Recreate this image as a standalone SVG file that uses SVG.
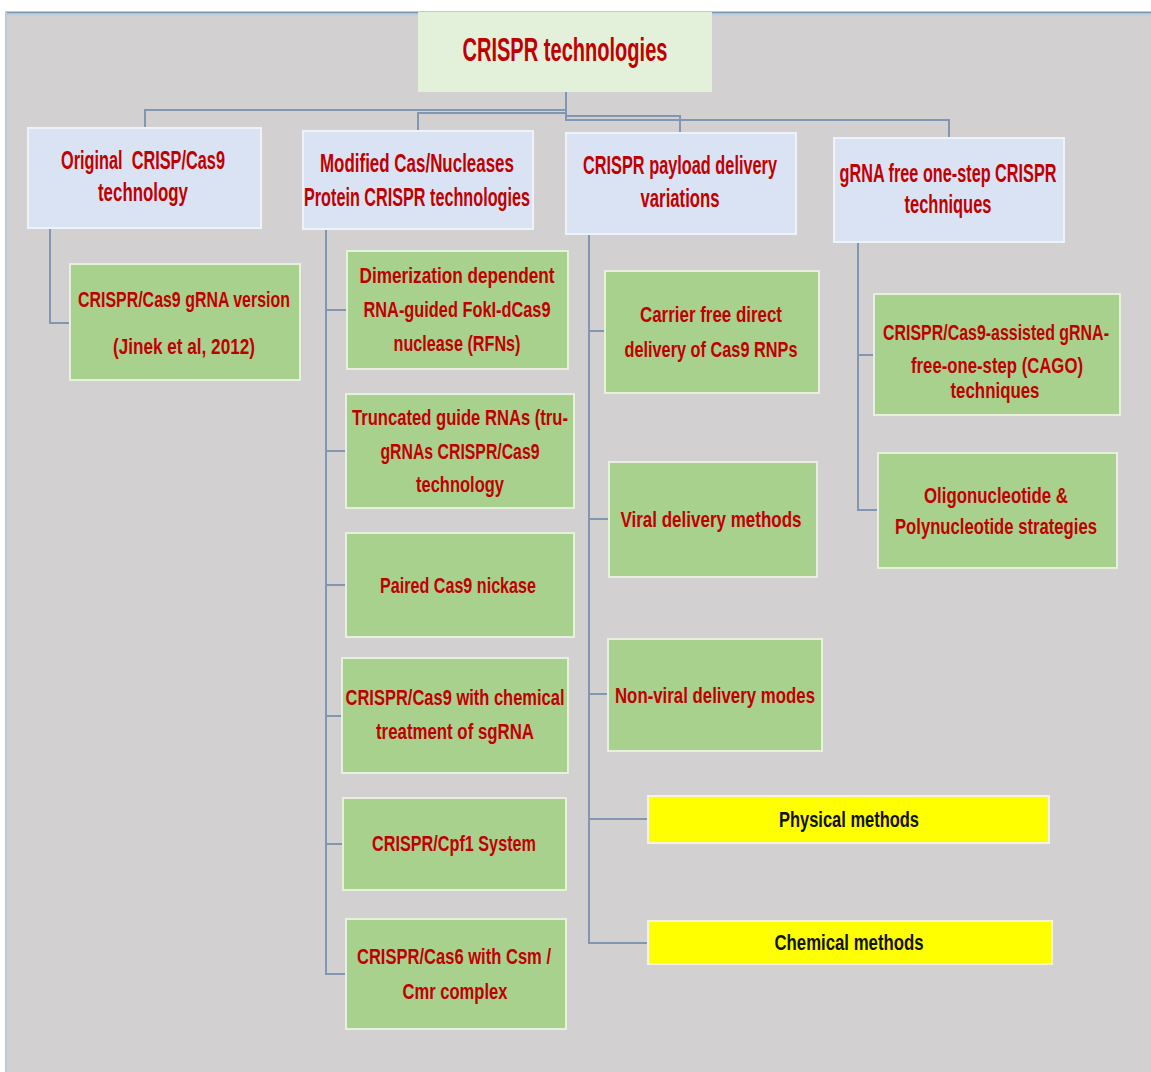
<svg xmlns="http://www.w3.org/2000/svg" width="1151" height="1072" viewBox="0 0 1151 1072">
<style>
  .t { font-family: "Liberation Sans", Arial, sans-serif; font-weight: bold; fill: #c00000; text-anchor: middle; }
  .k { fill: #111111; }
  .f0 { font-size: 34px; }
  .f1 { font-size: 26px; }
  .f2 { font-size: 22px; }
  .root { fill: #e3f0da; }
  .blue { fill: #dae3f3; stroke: #eef2f9; stroke-width: 2; }
  .green { fill: #a9d18e; stroke: #e6f0dc; stroke-width: 2; }
  .yellow { fill: #ffff00; stroke: #f4f4d8; stroke-width: 2; }
  .conn path { fill: none; stroke: #8196b0; stroke-width: 2; }
</style>
<rect x="0" y="0" width="1151" height="1072" fill="#ffffff"/>
<rect x="5" y="12" width="1146" height="1060" fill="#d2d0d0"/>
<line x1="5" y1="12.5" x2="1151" y2="12.5" stroke="#7e95ab" stroke-width="2"/>
<line x1="5" y1="14.5" x2="1151" y2="14.5" stroke="#bccfe0" stroke-width="2"/>
<line x1="6" y1="12" x2="6" y2="1072" stroke="#b9cad8" stroke-width="2"/>

<g class="conn" id="connectors">
  <path d="M566,92 V110 H145 V128"/>
  <path d="M566,92 V113 H418 V131"/>
  <path d="M566,92 V116 H680 V133"/>
  <path d="M566,92 V120 H949 V138"/>
  <path d="M50,228 V323 H70"/>
  <path d="M326,229 V974 H346"/>
  <path d="M326,310 H347"/>
  <path d="M326,451 H346"/>
  <path d="M326,585 H346"/>
  <path d="M326,716 H342"/>
  <path d="M326,844 H343"/>
  <path d="M589,234 V943 H648"/>
  <path d="M589,331 H605"/>
  <path d="M589,519 H609"/>
  <path d="M589,694 H608"/>
  <path d="M589,819 H648"/>
  <path d="M858,242 V510 H878"/>
  <path d="M858,355 H874"/>
</g>

<g id="root">
  <rect class="root" x="418" y="12" width="294" height="80"/>
  <text class="t f0" transform="scale(0.59,1)" x="957.6" y="61" textLength="347.5" lengthAdjust="spacingAndGlyphs">CRISPR technologies</text>
</g>

<g id="n-original">
  <rect class="blue" x="28" y="128" width="233" height="100"/>
  <text class="t f1" transform="scale(0.63,1)" x="227" y="169" textLength="260.3" lengthAdjust="spacingAndGlyphs">Original&#160; CRISP/Cas9</text>
  <text class="t f1" transform="scale(0.63,1)" x="227" y="201" textLength="142.9" lengthAdjust="spacingAndGlyphs">technology</text>
</g>
<g id="n-modified">
  <rect class="blue" x="303" y="131" width="230" height="98"/>
  <text class="t f1" transform="scale(0.63,1)" x="661.9" y="172" textLength="307.9" lengthAdjust="spacingAndGlyphs">Modified Cas/Nucleases</text>
  <text class="t f1" transform="scale(0.63,1)" x="661.9" y="206" textLength="358.7" lengthAdjust="spacingAndGlyphs">Protein CRISPR technologies</text>
</g>
<g id="n-payload">
  <rect class="blue" x="566" y="133" width="230" height="101"/>
  <text class="t f1" transform="scale(0.63,1)" x="1079.4" y="174" textLength="307.9" lengthAdjust="spacingAndGlyphs">CRISPR payload delivery</text>
  <text class="t f1" transform="scale(0.63,1)" x="1079.4" y="207" textLength="125.4" lengthAdjust="spacingAndGlyphs">variations</text>
</g>
<g id="n-grnafree">
  <rect class="blue" x="834" y="138" width="230" height="104"/>
  <text class="t f1" transform="scale(0.63,1)" x="1504.8" y="182" textLength="344.4" lengthAdjust="spacingAndGlyphs">gRNA free one-step CRISPR</text>
  <text class="t f1" transform="scale(0.63,1)" x="1504.8" y="213" textLength="138.1" lengthAdjust="spacingAndGlyphs">techniques</text>
</g>

<g id="n-grna-version">
  <rect class="green" x="70" y="264" width="230" height="116"/>
  <text class="t f2" transform="scale(0.74,1)" x="248.6" y="307" textLength="286.5" lengthAdjust="spacingAndGlyphs">CRISPR/Cas9 gRNA version</text>
  <text class="t f2" transform="scale(0.74,1)" x="248.6" y="354" textLength="191.9" lengthAdjust="spacingAndGlyphs">(Jinek et al, 2012)</text>
</g>

<g id="n-dimer">
  <rect class="green" x="347" y="251" width="221" height="118"/>
  <text class="t f2" transform="scale(0.74,1)" x="617.6" y="283" textLength="263.5" lengthAdjust="spacingAndGlyphs">Dimerization dependent</text>
  <text class="t f2" transform="scale(0.74,1)" x="617.6" y="317" textLength="252.7" lengthAdjust="spacingAndGlyphs">RNA-guided FokI-dCas9</text>
  <text class="t f2" transform="scale(0.74,1)" x="617.6" y="351" textLength="171.6" lengthAdjust="spacingAndGlyphs">nuclease (RFNs)</text>
</g>
<g id="n-truncated">
  <rect class="green" x="346" y="394" width="228" height="114"/>
  <text class="t f2" transform="scale(0.74,1)" x="621.6" y="425" textLength="291.9" lengthAdjust="spacingAndGlyphs">Truncated guide RNAs (tru-</text>
  <text class="t f2" transform="scale(0.74,1)" x="621.6" y="459" textLength="214.9" lengthAdjust="spacingAndGlyphs">gRNAs CRISPR/Cas9</text>
  <text class="t f2" transform="scale(0.74,1)" x="621.6" y="492" textLength="118.9" lengthAdjust="spacingAndGlyphs">technology</text>
</g>
<g id="n-paired">
  <rect class="green" x="346" y="533" width="228" height="104"/>
  <text class="t f2" transform="scale(0.74,1)" x="618.9" y="593" textLength="210.8" lengthAdjust="spacingAndGlyphs">Paired Cas9 nickase</text>
</g>
<g id="n-chemical-sgrna">
  <rect class="green" x="342" y="658" width="226" height="115"/>
  <text class="t f2" transform="scale(0.74,1)" x="614.9" y="705" textLength="295.9" lengthAdjust="spacingAndGlyphs">CRISPR/Cas9 with chemical</text>
  <text class="t f2" transform="scale(0.74,1)" x="614.9" y="739" textLength="213.5" lengthAdjust="spacingAndGlyphs">treatment of sgRNA</text>
</g>
<g id="n-cpf1">
  <rect class="green" x="343" y="798" width="223" height="92"/>
  <text class="t f2" transform="scale(0.74,1)" x="613.5" y="851" textLength="221.6" lengthAdjust="spacingAndGlyphs">CRISPR/Cpf1 System</text>
</g>
<g id="n-cas6">
  <rect class="green" x="346" y="919" width="220" height="110"/>
  <text class="t f2" transform="scale(0.74,1)" x="613.5" y="964" textLength="262.2" lengthAdjust="spacingAndGlyphs">CRISPR/Cas6 with Csm /</text>
  <text class="t f2" transform="scale(0.74,1)" x="614.9" y="999" textLength="141.9" lengthAdjust="spacingAndGlyphs">Cmr complex</text>
</g>

<g id="n-carrier">
  <rect class="green" x="605" y="271" width="214" height="122"/>
  <text class="t f2" transform="scale(0.74,1)" x="960.8" y="322" textLength="191.9" lengthAdjust="spacingAndGlyphs">Carrier free direct</text>
  <text class="t f2" transform="scale(0.74,1)" x="960.8" y="357" textLength="233.8" lengthAdjust="spacingAndGlyphs">delivery of Cas9 RNPs</text>
</g>
<g id="n-viral">
  <rect class="green" x="609" y="462" width="208" height="115"/>
  <text class="t f2" transform="scale(0.74,1)" x="960.8" y="527" textLength="244.6" lengthAdjust="spacingAndGlyphs">Viral delivery methods</text>
</g>
<g id="n-nonviral">
  <rect class="green" x="608" y="639" width="214" height="112"/>
  <text class="t f2" transform="scale(0.74,1)" x="966.2" y="703" textLength="270.3" lengthAdjust="spacingAndGlyphs">Non-viral delivery modes</text>
</g>
<g id="n-physical">
  <rect class="yellow" x="648" y="796" width="401" height="47"/>
  <text class="t f2 k" transform="scale(0.74,1)" x="1147.3" y="827" textLength="189.2" lengthAdjust="spacingAndGlyphs">Physical methods</text>
</g>
<g id="n-chemical">
  <rect class="yellow" x="648" y="921" width="404" height="43"/>
  <text class="t f2 k" transform="scale(0.74,1)" x="1147.3" y="950" textLength="201.4" lengthAdjust="spacingAndGlyphs">Chemical methods</text>
</g>

<g id="n-cago">
  <rect class="green" x="874" y="294" width="246" height="121"/>
  <text class="t f2" transform="scale(0.74,1)" x="1345.9" y="340" textLength="305.4" lengthAdjust="spacingAndGlyphs">CRISPR/Cas9-assisted gRNA-</text>
  <text class="t f2" transform="scale(0.74,1)" x="1347.3" y="373" textLength="232.4" lengthAdjust="spacingAndGlyphs">free-one-step (CAGO)</text>
  <text class="t f2" transform="scale(0.74,1)" x="1344.6" y="398" textLength="120.3" lengthAdjust="spacingAndGlyphs">techniques</text>
</g>
<g id="n-oligo">
  <rect class="green" x="878" y="453" width="239" height="115"/>
  <text class="t f2" transform="scale(0.74,1)" x="1345.9" y="503" textLength="194.6" lengthAdjust="spacingAndGlyphs">Oligonucleotide &amp;</text>
  <text class="t f2" transform="scale(0.74,1)" x="1345.9" y="534" textLength="273" lengthAdjust="spacingAndGlyphs">Polynucleotide strategies</text>
</g>
</svg>
